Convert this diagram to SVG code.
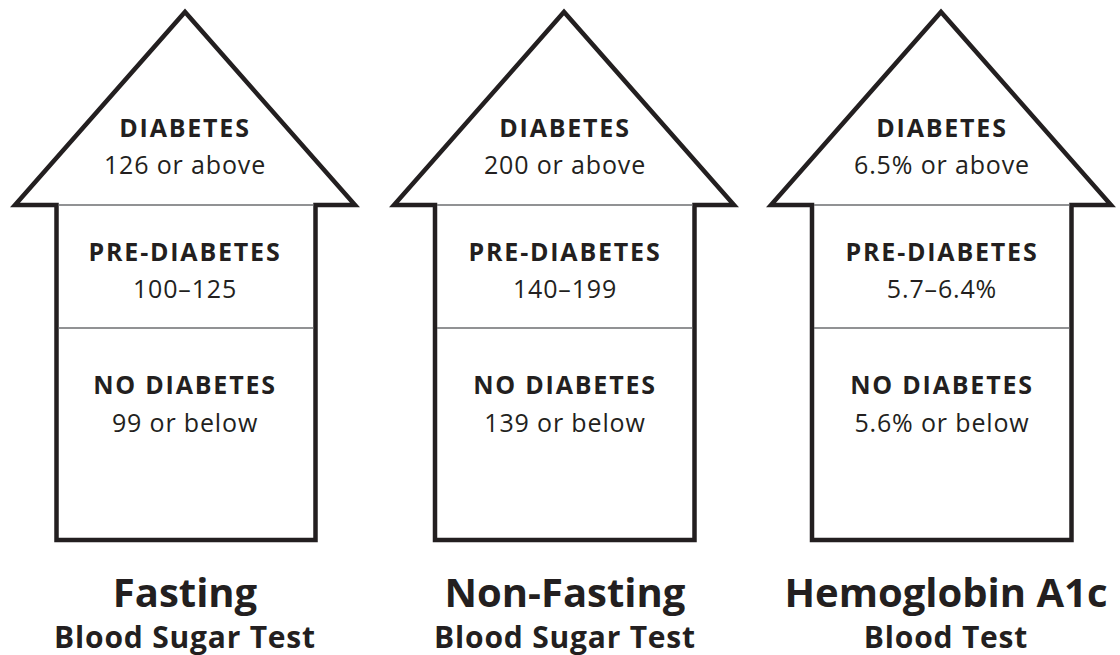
<svg xmlns="http://www.w3.org/2000/svg" width="1120" height="655" viewBox="0 0 1120 655">
<style>
.arrow{fill:#fff;stroke:#231f20;stroke-width:4.5;stroke-linejoin:miter;stroke-miterlimit:10}
.div{stroke:#6d6e71;stroke-width:1.5}
.lb{font-family:"Open Sans","Noto Sans",sans-serif;font-weight:700;font-size:25px;fill:#231f20;text-anchor:middle;letter-spacing:1.8px}
.vl{font-family:"Open Sans","Noto Sans",sans-serif;font-weight:400;font-size:25px;fill:#231f20;text-anchor:middle;letter-spacing:0.85px}
.t1{font-family:"Open Sans","Noto Sans",sans-serif;font-weight:700;font-size:40px;fill:#231f20;text-anchor:middle}
.t2{font-family:"Open Sans","Noto Sans",sans-serif;font-weight:700;font-size:30px;fill:#231f20;text-anchor:middle;letter-spacing:0.8px}
</style>
<g id="fasting">
<path class="arrow" d="M56.5 540 L56.5 205 L15 205 L185 12 L355 205 L315.5 205 L315.5 540 Z"/>
<line class="div" x1="58.5" y1="205" x2="313.5" y2="205"/>
<line class="div" x1="58.5" y1="328" x2="313.5" y2="328"/>
<text class="lb" x="185" y="137">DIABETES</text>
<text class="vl" x="185" y="174">126 or above</text>
<text class="lb" x="185" y="261">PRE-DIABETES</text>
<text class="vl" x="185" y="298">100–125</text>
<text class="lb" x="185" y="394">NO DIABETES</text>
<text class="vl" x="185" y="432">99 or below</text>
<text class="t1" x="185" y="607">Fasting</text>
<text class="t2" x="185" y="648">Blood Sugar Test</text>
</g>
<g id="nonfasting">
<path class="arrow" d="M435 540 L435 205 L394 205 L564 12 L734 205 L694.5 205 L694.5 540 Z"/>
<line class="div" x1="437" y1="205" x2="692.5" y2="205"/>
<line class="div" x1="437" y1="328" x2="692.5" y2="328"/>
<text class="lb" x="565" y="137">DIABETES</text>
<text class="vl" x="565" y="174">200 or above</text>
<text class="lb" x="565" y="261">PRE-DIABETES</text>
<text class="vl" x="565" y="298">140–199</text>
<text class="lb" x="565" y="394">NO DIABETES</text>
<text class="vl" x="565" y="432">139 or below</text>
<text class="t1" x="565" y="607">Non-Fasting</text>
<text class="t2" x="565" y="648">Blood Sugar Test</text>
</g>
<g id="a1c">
<path class="arrow" d="M812 540 L812 205 L771 205 L941 12 L1111 205 L1071.5 205 L1071.5 540 Z"/>
<line class="div" x1="814" y1="205" x2="1069.5" y2="205"/>
<line class="div" x1="814" y1="328" x2="1069.5" y2="328"/>
<text class="lb" x="942" y="137">DIABETES</text>
<text class="vl" x="942" y="174">6.5% or above</text>
<text class="lb" x="942" y="261">PRE-DIABETES</text>
<text class="vl" x="942" y="298">5.7–6.4%</text>
<text class="lb" x="942" y="394">NO DIABETES</text>
<text class="vl" x="942" y="432">5.6% or below</text>
<text class="t1" x="946" y="607">Hemoglobin A1c</text>
<text class="t2" x="946" y="648">Blood Test</text>
</g>
<g id="connectors"/>
</svg>
